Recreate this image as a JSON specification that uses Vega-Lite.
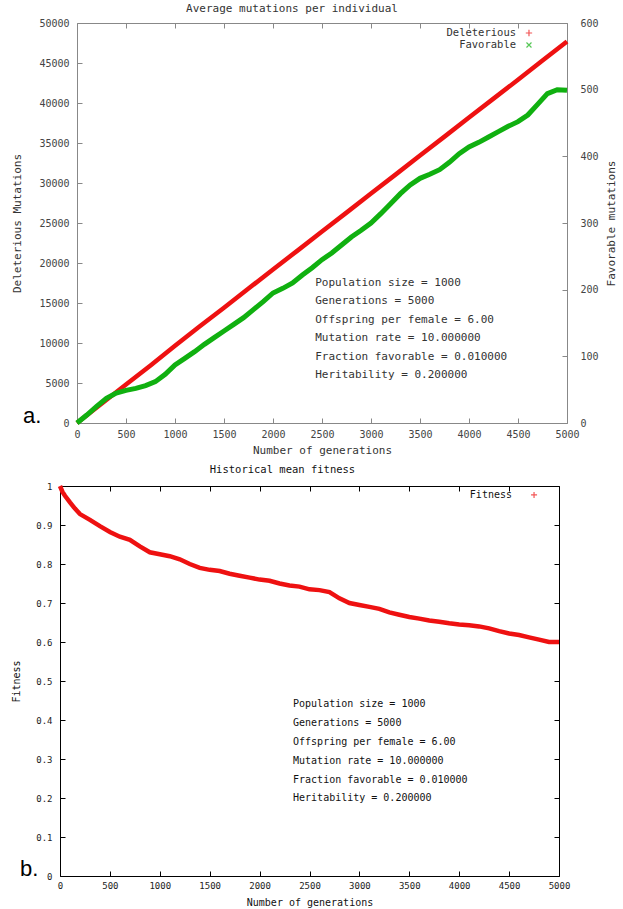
{
  "$schema": "https://vega.github.io/schema/vega-lite/v6.json",
  "padding": {"left": 0, "top": 2, "right": 0, "bottom": 0},
  "background": "white",
  "spacing": 8,
  "config": {
    "view": {"stroke": null},
    "font": "DejaVu Sans Mono",
    "axis": {"grid": false, "domain": false, "tickSize": -5, "tickCount": 50, "minExtent": 0, "labelFlush": false, "labelOverlap": false, "labelFont": "DejaVu Sans Mono", "titleFont": "DejaVu Sans Mono", "titleFontWeight": "normal"},
    "title": {"fontWeight": "normal", "font": "DejaVu Sans Mono"},
    "text": {"font": "DejaVu Sans Mono"}
  },
  "datasets": {
    "deleterious": [
      {"generation": 0, "mutations": 0}, {"generation": 250, "mutations": 2400}, {"generation": 500, "mutations": 4800},
      {"generation": 750, "mutations": 7200}, {"generation": 1000, "mutations": 9650}, {"generation": 1250, "mutations": 12050},
      {"generation": 1500, "mutations": 14400}, {"generation": 1750, "mutations": 16800}, {"generation": 2000, "mutations": 19200},
      {"generation": 2250, "mutations": 21550}, {"generation": 2500, "mutations": 23950}, {"generation": 2750, "mutations": 26300},
      {"generation": 3000, "mutations": 28700}, {"generation": 3250, "mutations": 31050}, {"generation": 3500, "mutations": 33450},
      {"generation": 3750, "mutations": 35800}, {"generation": 4000, "mutations": 38200}, {"generation": 4250, "mutations": 40550},
      {"generation": 4500, "mutations": 42900}, {"generation": 4750, "mutations": 45300}, {"generation": 5000, "mutations": 47700}
    ],
    "favorable": [
      {"generation": 0, "mutations": 0}, {"generation": 100, "mutations": 12}, {"generation": 200, "mutations": 25},
      {"generation": 300, "mutations": 37}, {"generation": 400, "mutations": 45}, {"generation": 500, "mutations": 49},
      {"generation": 600, "mutations": 52}, {"generation": 700, "mutations": 56}, {"generation": 800, "mutations": 62},
      {"generation": 900, "mutations": 73}, {"generation": 1000, "mutations": 87}, {"generation": 1100, "mutations": 97},
      {"generation": 1200, "mutations": 107}, {"generation": 1300, "mutations": 118}, {"generation": 1400, "mutations": 128},
      {"generation": 1500, "mutations": 138}, {"generation": 1600, "mutations": 148}, {"generation": 1700, "mutations": 158},
      {"generation": 1800, "mutations": 170}, {"generation": 1900, "mutations": 182}, {"generation": 2000, "mutations": 195},
      {"generation": 2100, "mutations": 202}, {"generation": 2200, "mutations": 210}, {"generation": 2300, "mutations": 222},
      {"generation": 2400, "mutations": 233}, {"generation": 2500, "mutations": 245}, {"generation": 2600, "mutations": 255},
      {"generation": 2700, "mutations": 267}, {"generation": 2800, "mutations": 279}, {"generation": 2900, "mutations": 289},
      {"generation": 3000, "mutations": 300}, {"generation": 3100, "mutations": 314}, {"generation": 3200, "mutations": 329},
      {"generation": 3300, "mutations": 344}, {"generation": 3400, "mutations": 357}, {"generation": 3500, "mutations": 367},
      {"generation": 3600, "mutations": 373}, {"generation": 3700, "mutations": 380}, {"generation": 3800, "mutations": 391},
      {"generation": 3900, "mutations": 404}, {"generation": 4000, "mutations": 414}, {"generation": 4100, "mutations": 421},
      {"generation": 4200, "mutations": 429}, {"generation": 4300, "mutations": 437}, {"generation": 4400, "mutations": 445},
      {"generation": 4500, "mutations": 452}, {"generation": 4600, "mutations": 462}, {"generation": 4700, "mutations": 478},
      {"generation": 4800, "mutations": 494}, {"generation": 4900, "mutations": 500}, {"generation": 5000, "mutations": 499}
    ],
    "fitness": [
      {"generation": 0, "fitness": 1.0}, {"generation": 25, "fitness": 0.985}, {"generation": 50, "fitness": 0.975},
      {"generation": 100, "fitness": 0.958}, {"generation": 150, "fitness": 0.942}, {"generation": 200, "fitness": 0.928},
      {"generation": 300, "fitness": 0.913}, {"generation": 400, "fitness": 0.897}, {"generation": 500, "fitness": 0.882},
      {"generation": 600, "fitness": 0.870}, {"generation": 700, "fitness": 0.862}, {"generation": 800, "fitness": 0.845},
      {"generation": 900, "fitness": 0.830}, {"generation": 1000, "fitness": 0.825}, {"generation": 1100, "fitness": 0.820},
      {"generation": 1200, "fitness": 0.812}, {"generation": 1300, "fitness": 0.800}, {"generation": 1400, "fitness": 0.790},
      {"generation": 1500, "fitness": 0.785}, {"generation": 1600, "fitness": 0.782}, {"generation": 1700, "fitness": 0.775},
      {"generation": 1800, "fitness": 0.770}, {"generation": 1900, "fitness": 0.765}, {"generation": 2000, "fitness": 0.760},
      {"generation": 2100, "fitness": 0.757}, {"generation": 2200, "fitness": 0.750}, {"generation": 2300, "fitness": 0.745},
      {"generation": 2400, "fitness": 0.742}, {"generation": 2500, "fitness": 0.735}, {"generation": 2600, "fitness": 0.733},
      {"generation": 2700, "fitness": 0.728}, {"generation": 2800, "fitness": 0.712}, {"generation": 2900, "fitness": 0.700},
      {"generation": 3000, "fitness": 0.695}, {"generation": 3100, "fitness": 0.690}, {"generation": 3200, "fitness": 0.685},
      {"generation": 3300, "fitness": 0.676}, {"generation": 3400, "fitness": 0.670}, {"generation": 3500, "fitness": 0.664},
      {"generation": 3600, "fitness": 0.660}, {"generation": 3700, "fitness": 0.655}, {"generation": 3800, "fitness": 0.652},
      {"generation": 3900, "fitness": 0.648}, {"generation": 4000, "fitness": 0.645}, {"generation": 4100, "fitness": 0.643},
      {"generation": 4200, "fitness": 0.640}, {"generation": 4300, "fitness": 0.635}, {"generation": 4400, "fitness": 0.628},
      {"generation": 4500, "fitness": 0.622}, {"generation": 4600, "fitness": 0.618}, {"generation": 4700, "fitness": 0.612},
      {"generation": 4800, "fitness": 0.606}, {"generation": 4900, "fitness": 0.600}, {"generation": 5000, "fitness": 0.600}
    ]
  },
  "vconcat": [
    {
      "hconcat": [
        {"width": 1, "height": 1, "data": {"values": [{"k": 0}]}, "mark": {"type": "point", "opacity": 0}, "encoding": {}},
        {
          "width": 490,
          "height": 400,
          "view": {"stroke": "#888888", "strokeWidth": 1},
          "title": {"text": "Average mutations per individual", "fontSize": 11, "color": "#333333", "dx": -30, "offset": -7, "baseline": "bottom"},
          "layer": [
            {
              "layer": [
                {
                  "data": {"name": "deleterious"},
                  "mark": {"type": "line", "color": "#ee1111", "strokeWidth": 4.5},
                  "encoding": {
                    "x": {"field": "generation", "type": "quantitative", "scale": {"domain": [0, 5000], "nice": false},
                      "axis": {"values": [0, 500, 1000, 1500, 2000, 2500, 3000, 3500, 4000, 4500, 5000], "tickCount": 50, "format": "d", "labelOverlap": false, "title": "Number of generations", "titleY": 27, "titleBaseline": "middle", "titleFontSize": 11, "titleColor": "#333333", "labelFontSize": 10, "labelColor": "#444444", "labelPadding": 11, "tickColor": "#888888"}},
                    "y": {"field": "mutations", "type": "quantitative", "scale": {"domain": [0, 50000], "nice": false},
                      "axis": {"values": [0, 5000, 10000, 15000, 20000, 25000, 30000, 35000, 40000, 45000, 50000], "tickCount": 50, "format": "d", "labelOverlap": false, "title": "Deleterious Mutations", "titleX": -60, "titleBaseline": "middle", "titleFontSize": 11, "titleColor": "#333333", "labelFontSize": 10, "labelColor": "#444444", "labelPadding": 13, "tickColor": "#888888"}}
                  }
                },
                {
                  "data": {"values": [{"label": "Deleterious"}]},
                  "mark": {"type": "text", "align": "right", "baseline": "middle", "fontSize": 10.5, "color": "#333333"},
                  "encoding": {"x": {"datum": 4480}, "y": {"datum": 48750}, "text": {"field": "label"}}
                },
                {
                  "data": {"values": [{"label": "Favorable"}]},
                  "mark": {"type": "text", "align": "right", "baseline": "middle", "fontSize": 10.5, "color": "#333333"},
                  "encoding": {"x": {"datum": 4480}, "y": {"datum": 47250}, "text": {"field": "label"}}
                },
                {
                  "data": {"values": [{"label": "Deleterious"}]},
                  "mark": {"type": "point", "shape": "M-1,0L1,0M0,-1L0,1", "filled": false, "size": 40, "strokeWidth": 1.2, "color": "#ee1111"},
                  "encoding": {"x": {"datum": 4612}, "y": {"datum": 48750}}
                },
                {
                  "data": {"values": [{"label": "Favorable"}]},
                  "mark": {"type": "point", "shape": "M-1,-1L1,1M-1,1L1,-1", "filled": false, "size": 25, "strokeWidth": 1.2, "color": "#10b010"},
                  "encoding": {"x": {"datum": 4612}, "y": {"datum": 47250}}
                },
                {
                  "data": {"values": [{"note": "parameters"}]},
                  "mark": {"type": "text", "align": "left", "baseline": "top", "fontSize": 11, "lineHeight": 18.5, "color": "#333333"},
                  "encoding": {"x": {"datum": 2430}, "y": {"datum": 18300},
                    "text": {"value": ["Population size = 1000", "Generations = 5000", "Offspring per female = 6.00", "Mutation rate = 10.000000", "Fraction favorable = 0.010000", "Heritability = 0.200000"]}}
                },
                {
                  "data": {"values": [{"panel": "a."}]},
                  "mark": {"type": "text", "align": "left", "baseline": "alphabetic", "font": "Liberation Sans", "fontSize": 22, "dx": -54, "color": "#000000"},
                  "encoding": {"x": {"datum": 0}, "y": {"datum": 0}, "text": {"field": "panel"}}
                }
              ]
            },
            {
              "data": {"name": "favorable"},
              "mark": {"type": "line", "color": "#10b010", "strokeWidth": 5},
              "encoding": {
                "x": {"field": "generation", "type": "quantitative",
                  "axis": {"orient": "top", "values": [0, 500, 1000, 1500, 2000, 2500, 3000, 3500, 4000, 4500, 5000], "tickCount": 50, "labels": false, "title": null, "minExtent": 0, "maxExtent": 0, "tickColor": "#888888"}},
                "y": {"field": "mutations", "type": "quantitative", "scale": {"domain": [0, 600], "nice": false},
                  "axis": {"orient": "right", "values": [0, 100, 200, 300, 400, 500, 600], "tickCount": 50, "labelOverlap": false, "title": "Favorable mutations", "titleAngle": 270, "titleX": 44, "titleBaseline": "middle", "titleFontSize": 11, "titleColor": "#333333", "labelFontSize": 10, "labelColor": "#444444", "labelPadding": 18, "tickColor": "#888888"}}
              }
            }
          ],
          "resolve": {"scale": {"y": "independent"}, "axis": {"x": "independent", "y": "independent"}}
        }
      ],
      "spacing": 3,
      "align": "none"
    },
    {
      "hconcat": [
        {"width": 1, "height": 1, "data": {"values": [{"k": 0}]}, "mark": {"type": "point", "opacity": 0}, "encoding": {}},
        {
          "width": 499,
          "height": 390,
          "view": {"stroke": "#000000", "strokeWidth": 1},
          "title": {"text": "Historical mean fitness", "fontSize": 10.5, "color": "#111111", "dx": -27, "offset": -8, "baseline": "bottom"},
          "layer": [
            {
              "layer": [
                {
                  "data": {"name": "fitness"},
                  "mark": {"type": "line", "color": "#ee1111", "strokeWidth": 4.5},
                  "encoding": {
                    "x": {"field": "generation", "type": "quantitative", "scale": {"domain": [0, 5000], "nice": false},
                      "axis": {"values": [0, 500, 1000, 1500, 2000, 2500, 3000, 3500, 4000, 4500, 5000], "tickCount": 50, "format": "d", "labelOverlap": false, "title": "Number of generations", "titleY": 26, "titleBaseline": "middle", "titleFontSize": 10, "titleColor": "#111111", "labelFontSize": 9, "labelColor": "#222222", "labelPadding": 10.5, "tickColor": "#000000"}},
                    "y": {"field": "fitness", "type": "quantitative", "scale": {"domain": [0, 1], "nice": false},
                      "axis": {"values": [0, 0.1, 0.2, 0.3, 0.4, 0.5, 0.6, 0.7, 0.8, 0.9, 1], "tickCount": 50, "format": "~g", "labelOverlap": false, "title": "Fitness", "titleX": -44, "titleBaseline": "middle", "titleFontSize": 10, "titleColor": "#111111", "labelFontSize": 9, "labelColor": "#222222", "labelPadding": 13, "tickColor": "#000000"}}
                  }
                },
                {
                  "data": {"values": [{"note": "parameters"}]},
                  "mark": {"type": "text", "align": "left", "baseline": "top", "fontSize": 10, "lineHeight": 18.9, "color": "#111111"},
                  "encoding": {"x": {"datum": 2335}, "y": {"datum": 0.454},
                    "text": {"value": ["Population size = 1000", "Generations = 5000", "Offspring per female = 6.00", "Mutation rate = 10.000000", "Fraction favorable = 0.010000", "Heritability = 0.200000"]}}
                },
                {
                  "data": {"values": [{"panel": "b."}]},
                  "mark": {"type": "text", "align": "left", "baseline": "alphabetic", "font": "Liberation Sans", "fontSize": 22, "dx": -40, "color": "#000000"},
                  "encoding": {"x": {"datum": 0}, "y": {"datum": 0}, "text": {"field": "panel"}}
                }
              ]
            },
            {
              "layer": [
                {
                  "data": {"values": [{"label": "Fitness"}]},
                  "mark": {"type": "text", "align": "right", "baseline": "middle", "fontSize": 10, "color": "#111111"},
                  "encoding": {
                    "x": {"datum": 4529, "type": "quantitative", "axis": {"orient": "top", "values": [0, 500, 1000, 1500, 2000, 2500, 3000, 3500, 4000, 4500, 5000], "tickCount": 50, "labels": false, "title": null, "minExtent": 0, "maxExtent": 0, "tickColor": "#000000"}},
                    "y": {"datum": 0.977, "type": "quantitative", "axis": {"orient": "right", "values": [0, 0.1, 0.2, 0.3, 0.4, 0.5, 0.6, 0.7, 0.8, 0.9, 1], "tickCount": 50, "labels": false, "title": null, "minExtent": 0, "maxExtent": 0, "tickColor": "#000000"}},
                    "text": {"field": "label"}
                  }
                },
                {
                  "data": {"values": [{"label": "Fitness"}]},
                  "mark": {"type": "point", "shape": "M-1,0L1,0M0,-1L0,1", "filled": false, "size": 36, "strokeWidth": 1.2, "color": "#ee1111"},
                  "encoding": {"x": {"datum": 4750, "type": "quantitative"}, "y": {"datum": 0.977, "type": "quantitative"}}
                }
              ]
            }
          ],
          "resolve": {"axis": {"x": "independent", "y": "independent"}}
        }
      ],
      "spacing": 3,
      "align": "none"
    }
  ]
}
